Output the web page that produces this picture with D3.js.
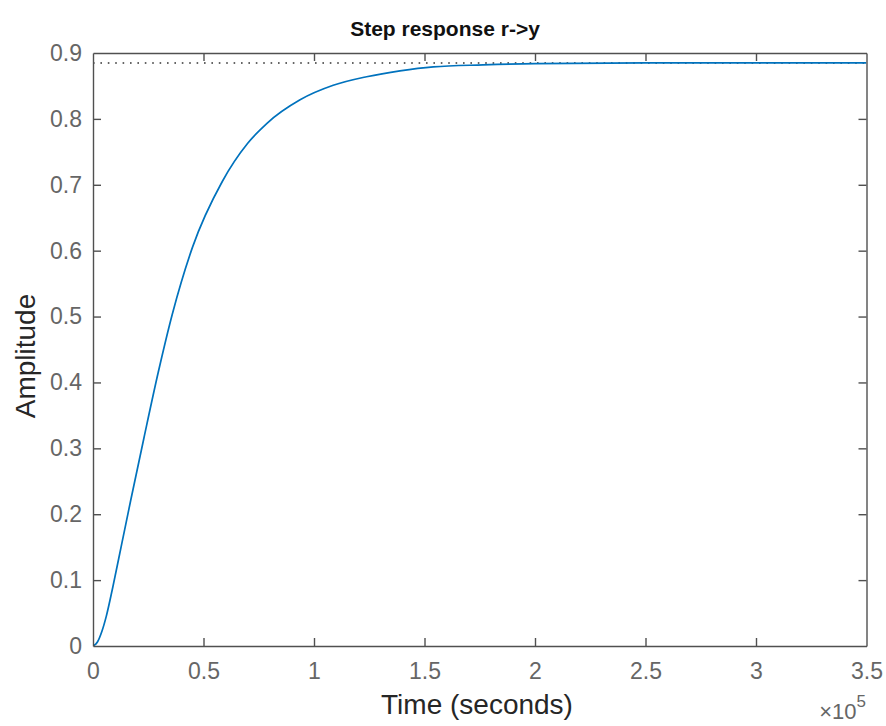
<!DOCTYPE html>
<html><head><meta charset="utf-8">
<script src="https://cdn.jsdelivr.net/npm/d3@7"></script>
<style>body{margin:0;background:#fff}svg{display:block}</style>
</head><body><svg id="c" width="886" height="726"></svg>
<script>
// ---- data ----
const timeSeconds = [0, 2000, 4000, 6000, 9000, 13000, 17000, 23000, 29500, 36000, 45000, 58500, 70000, 78600, 93700, 108700, 123800, 138900, 154000, 176500, 200000, 250000, 300000, 350000];
const amplitude   = [0, 0.006, 0.022, 0.045, 0.09, 0.155, 0.22, 0.315, 0.415, 0.505, 0.605, 0.705, 0.763, 0.793, 0.829, 0.851, 0.864, 0.873, 0.879, 0.882, 0.884, 0.885, 0.885, 0.885];
const steadyState = [0.885];
const xTickValues = [0, 50000, 100000, 150000, 200000, 250000, 300000, 350000];
const xTickLabels = ["0", "0.5", "1", "1.5", "2", "2.5", "3", "3.5"];
const yTickValues = [0, 0.1, 0.2, 0.3, 0.4, 0.5, 0.6, 0.7, 0.8, 0.9];
const yTickLabels = ["0", "0.1", "0.2", "0.3", "0.4", "0.5", "0.6", "0.7", "0.8", "0.9"];
const titleText = "Step response r->y";
const xLabelText = "Time (seconds)";
const yLabelText = "Amplitude";

// ---- layout ----
const L = 93, R = 866.5, T = 53, B = 646;
const axisColor = "#505050", tickTextColor = "#666", labelColor = "#262626";
const font = "'Liberation Sans', Arial, sans-serif";
const svg = d3.select("#c");

const x = d3.scaleLinear().domain([0, 350000]).range([L, R]);
const y = d3.scaleLinear().domain([0, 0.9]).range([B, T]);

svg.append("defs").append("clipPath").attr("id", "clip")
  .append("rect").attr("x", L).attr("y", T).attr("width", R - L).attr("height", B - T);

// steady-state dotted line
svg.append("g").attr("clip-path", "url(#clip)").selectAll("line").data(steadyState).join("line")
  .attr("x1", x(0)).attr("x2", x(350000))
  .attr("y1", d => y(d)).attr("y2", d => y(d))
  .attr("stroke", "#333").attr("stroke-width", 1.5).attr("stroke-dasharray", "1.6,5.8");

// response curve
const pts = timeSeconds.map((t, i) => [t, amplitude[i]]);
svg.append("path").attr("clip-path", "url(#clip)")
  .datum(pts)
  .attr("fill", "none").attr("stroke", "#0072BD").attr("stroke-width", 1.7)
  .attr("d", d3.line().x(d => x(d[0])).y(d => y(d[1])).curve(d3.curveMonotoneX));

// axes (MATLAB style: inside ticks, mirrored on top/right)
const tickLen = 8;
const xFmt = d => xTickLabels[xTickValues.indexOf(d)];
const yFmt = d => yTickLabels[yTickValues.findIndex(v => Math.abs(v - d) < 1e-9)];

const gxB = svg.append("g").attr("transform", `translate(0,${B})`)
  .call(d3.axisBottom(x).tickValues(xTickValues).tickFormat(xFmt).tickSizeInner(-tickLen).tickSizeOuter(0).tickPadding(17));
const gxT = svg.append("g").attr("transform", `translate(0,${T})`)
  .call(d3.axisTop(x).tickValues(xTickValues).tickFormat("").tickSizeInner(-tickLen).tickSizeOuter(0));
const gyL = svg.append("g").attr("transform", `translate(${L},0)`)
  .call(d3.axisLeft(y).tickValues(yTickValues).tickFormat(yFmt).tickSizeInner(-tickLen).tickSizeOuter(0).tickPadding(11));
const gyR = svg.append("g").attr("transform", `translate(${R},0)`)
  .call(d3.axisRight(y).tickValues(yTickValues).tickFormat("").tickSizeInner(-tickLen).tickSizeOuter(0));

[gxB, gxT, gyL, gyR].forEach(g => {
  g.select(".domain").attr("stroke", axisColor).attr("stroke-width", 1.4);
  g.selectAll(".tick line").attr("stroke", axisColor).attr("stroke-width", 1.4);
  g.selectAll(".tick text").attr("fill", tickTextColor).style("font-family", font).style("font-size", "23px");
});
// remove ticks that would sit on the box corners
gxT.selectAll(".tick").filter(d => d === 0 || d === 350000).select("line").remove();
gxB.selectAll(".tick").filter(d => d === 0 || d === 350000).select("line").remove();
gyL.selectAll(".tick").filter(d => d === 0 || d === 0.9).select("line").remove();
gyR.selectAll(".tick").filter(d => d === 0 || d === 0.9).select("line").remove();

// title
svg.append("text").attr("x", 445).attr("y", 36).attr("text-anchor", "middle")
  .style("font-family", font).style("font-size", "21px").style("font-weight", "bold")
  .attr("fill", "#111").text(titleText);

// axis labels
svg.append("text").attr("x", 477).attr("y", 714).attr("text-anchor", "middle")
  .style("font-family", font).style("font-size", "28px").attr("fill", labelColor).text(xLabelText);
svg.append("text").attr("transform", "translate(35,356) rotate(-90)").attr("text-anchor", "middle")
  .style("font-family", font).style("font-size", "28px").attr("fill", labelColor).text(yLabelText);

// exponent label
const ex = svg.append("text").attr("x", 866).attr("y", 719).attr("text-anchor", "end")
  .style("font-family", font).style("font-size", "22px").attr("fill", tickTextColor);
ex.append("tspan").text("\u00d7");
ex.append("tspan").text("10");
ex.append("tspan").attr("dy", -12).style("font-size", "17px").text("5");
</script>
</body></html>
